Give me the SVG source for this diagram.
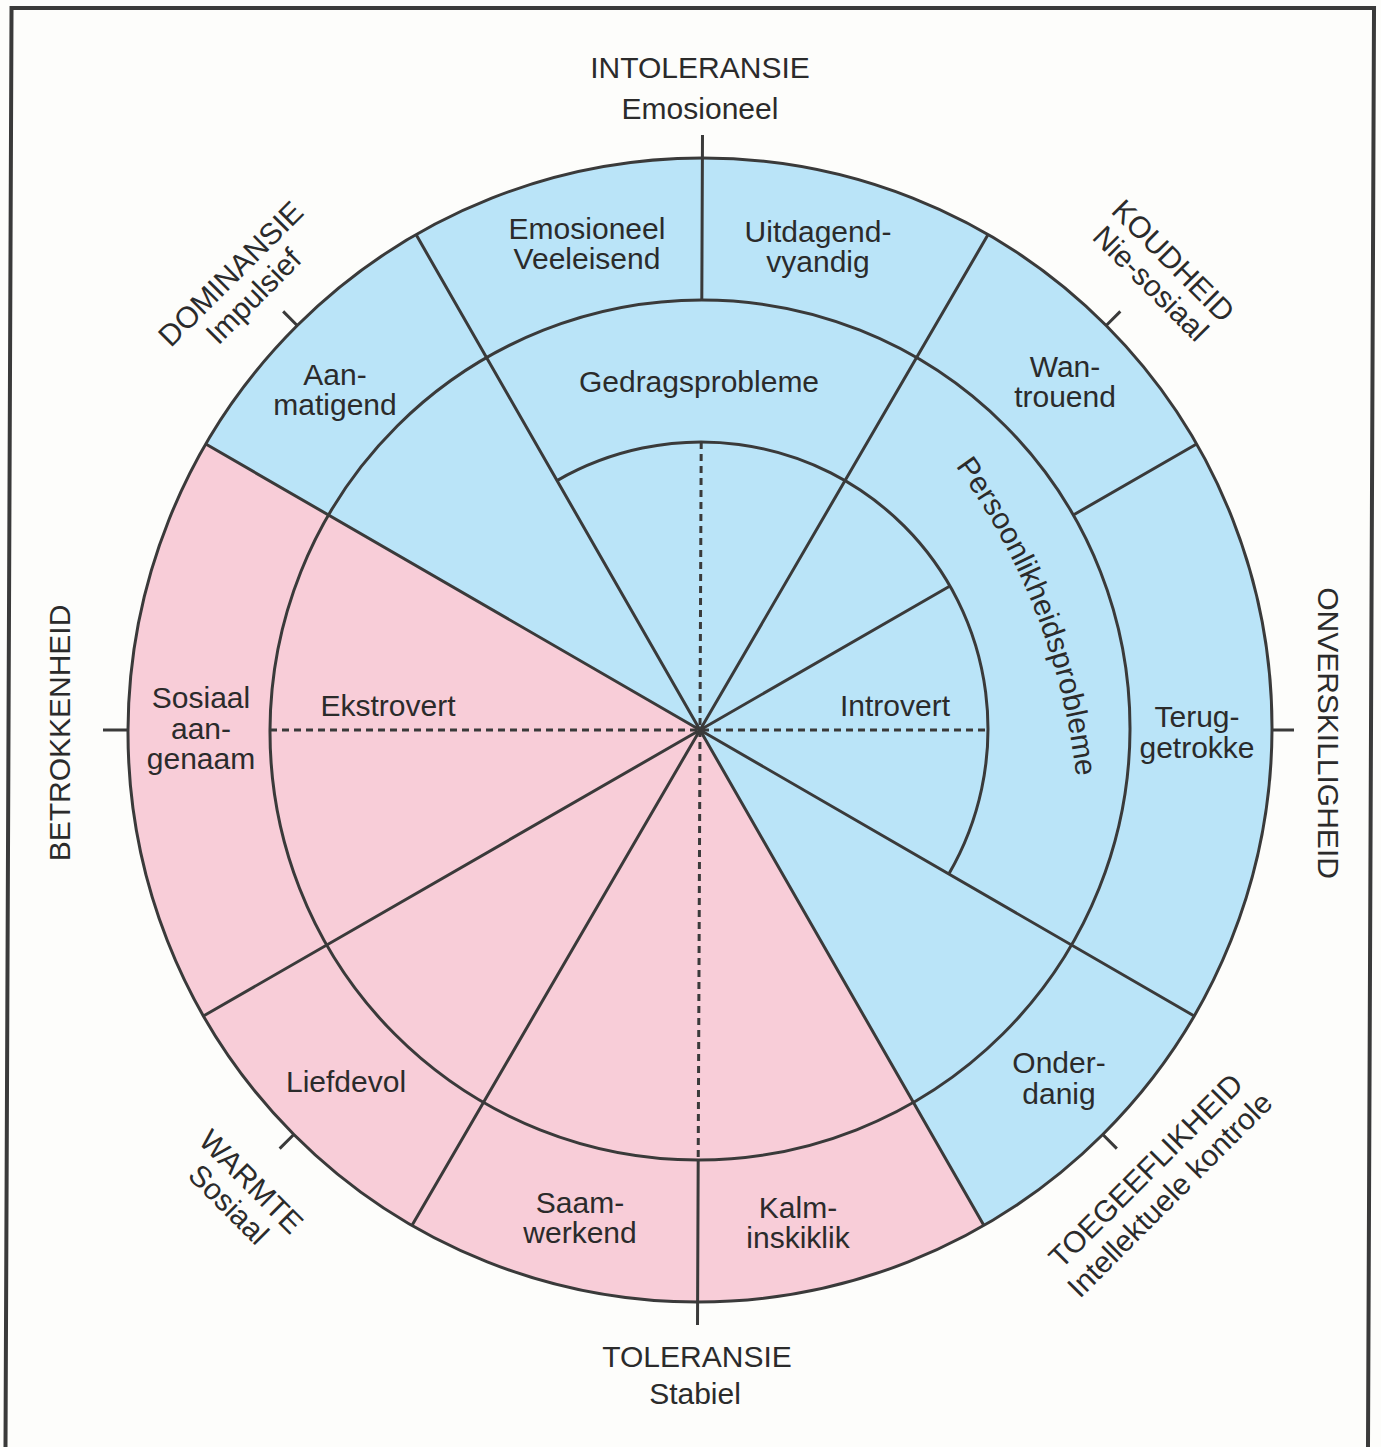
<svg xmlns="http://www.w3.org/2000/svg" width="1381" height="1447" viewBox="0 0 1381 1447">
<style>
.ln{stroke:#3a3a3a;stroke-width:3;fill:none}
.ds{stroke:#3a3a3a;stroke-width:3;fill:none;stroke-dasharray:7 5}
.fr{stroke:#3a3a3a;stroke-width:4;fill:none}
text{font-family:"Liberation Sans",Arial,Helvetica,sans-serif;font-size:30px;fill:#2b2b2b;text-anchor:middle}
</style>
<defs>
<path id="pp" d="M921.5,423.4 A650,650 0 0 1 1080,831.1"/>
</defs>
<rect width="1381" height="1447" fill="#fdfdfb"/>
<g transform="translate(0,730) skewX(-0.24) translate(0,-730)">
<path class="fr" d="M8.5,1447 L8.5,8 L1371,8 L1371,1447"/>
<g id="wheel">
<circle id="blue-field" cx="700" cy="730" r="572" fill="#bae4f8"/>
<path id="pink-field" d="M700,730 L204.6,444 A572,572 0 0 0 986,1225.4 Z" fill="#f8cdd8"/>
</g>
<g id="connectors">
<circle class="ln" cx="700" cy="730" r="572"/>
<circle class="ln" cx="700" cy="730" r="430"/>
<path class="ln" d="M556,480.6 A288,288 0 0 1 949.4,874"/>
<path class="ln" d="M700,730 L204.6,444 M700,730 L204.6,1016 M700,730 L414,1225.4 M700,730 L986,1225.4 M700,730 L1195.4,1016 M700,730 L986,234.6 M700,730 L414,234.6 M700,730 L949.4,586 M1072.4,515 L1195.4,444 M700,135 L700,300 M700,1160 L700,1325"/>
<path class="ds" d="M700,442 L700,1160 M270,730 L988,730"/>
<path class="ln" d="M295.5,325.5 L281.4,311.4 M1104.5,325.5 L1118.6,311.4 M1104.5,1134.5 L1118.6,1148.6 M295.5,1134.5 L281.4,1148.6 M128,730 L103,730 M1272,730 L1294,730"/>
</g>
</g>
<g id="axis-labels">
<text x="700" y="78">INTOLERANSIE</text>
<text x="700" y="119">Emosioneel</text>
<text x="697" y="1367">TOLERANSIE</text>
<text x="695" y="1404">Stabiel</text>
<text transform="translate(70,733) rotate(-90)">BETROKKENHEID</text>
<text transform="translate(1318,733) rotate(90)">ONVERSKILLIGHEID</text>
<g transform="translate(238,281) rotate(-45)"><text y="0">DOMINANSIE</text><text y="32">Impulsief</text></g>
<g transform="translate(1166,268) rotate(45)"><text y="0">KOUDHEID</text><text y="32">Nie-sosiaal</text></g>
<g transform="translate(1153,1178) rotate(-45)"><text y="0">TOEGEEFLIKHEID</text><text y="34">Intellektuele kontrole</text></g>
<g transform="translate(244,1189) rotate(45)"><text y="0">WARMTE</text><text y="32">Sosiaal</text></g>
</g>
<g id="sector-emosioneel"><text x="587" y="239">Emosioneel</text><text x="587" y="269">Veeleisend</text></g>
<g id="sector-uitdagend"><text x="818" y="242">Uitdagend-</text><text x="818" y="272">vyandig</text></g>
<g id="sector-aanmatigend"><text x="335" y="385">Aan-</text><text x="335" y="415">matigend</text></g>
<g id="sector-wantrouend"><text x="1065" y="377">Wan-</text><text x="1065" y="407">trouend</text></g>
<g id="sector-sosiaal"><text x="201" y="708">Sosiaal</text><text x="201" y="739">aan-</text><text x="201" y="769">genaam</text></g>
<g id="sector-terug"><text x="1197" y="727">Terug-</text><text x="1197" y="758">getrokke</text></g>
<g id="sector-liefdevol"><text x="346" y="1092">Liefdevol</text></g>
<g id="sector-saamwerkend"><text x="580" y="1213">Saam-</text><text x="580" y="1243">werkend</text></g>
<g id="sector-kalm"><text x="798" y="1218">Kalm-</text><text x="798" y="1248">inskiklik</text></g>
<g id="sector-onderdanig"><text x="1059" y="1073">Onder-</text><text x="1059" y="1104">danig</text></g>
<g id="ring-gedrag"><text x="699" y="392">Gedragsprobleme</text></g>
<g id="ring-persoonlikheid"><text><textPath href="#pp" startOffset="50%">Persoonlikheidsprobleme</textPath></text></g>
<g id="core-ekstrovert"><text x="388" y="716">Ekstrovert</text></g>
<g id="core-introvert"><text x="895" y="716">Introvert</text></g>
</svg>
